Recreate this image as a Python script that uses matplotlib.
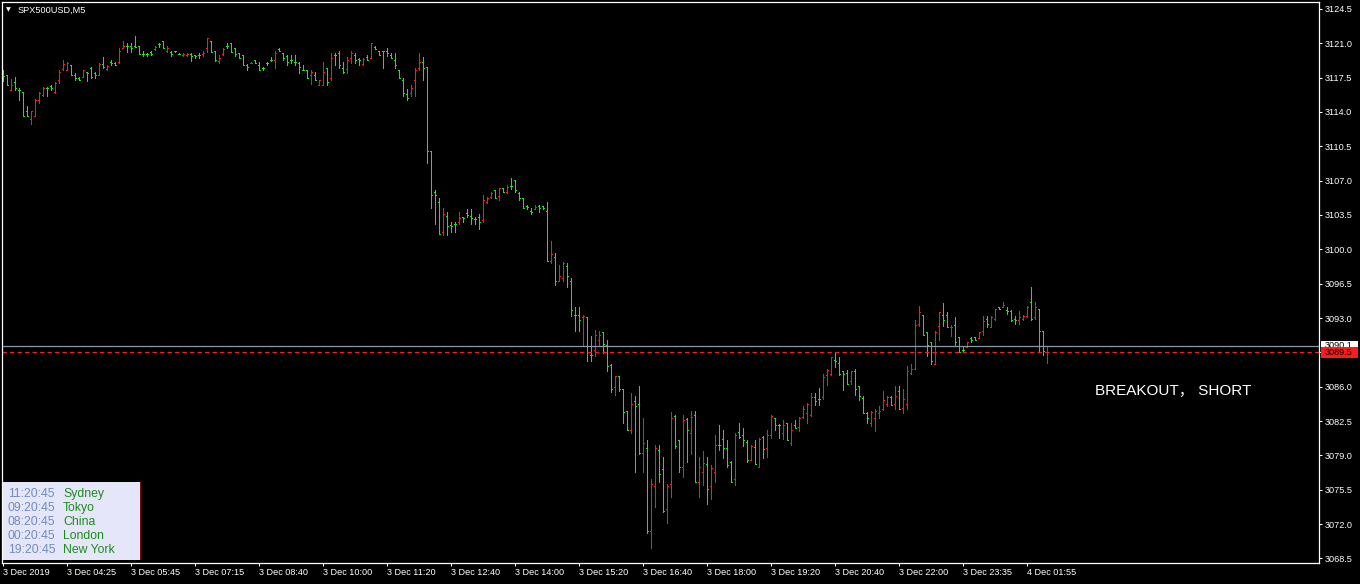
import matplotlib
matplotlib.use("Agg")
import matplotlib.pyplot as plt
from matplotlib.collections import LineCollection
from matplotlib.patches import Rectangle

plt.rcParams['font.family'] = ['Liberation Sans', 'DejaVu Sans']

# SPX500USD M5 bars (bar index 0..261)
opens = [
    3117.75, 3117.78, 3116.22, 3117.07, 3116.25, 3116.05, 3114.11, 3113.26, 3113.60, 3115.20,
    3115.71, 3116.49, 3116.66, 3116.08, 3117.24, 3118.36, 3118.26, 3118.80, 3117.78, 3117.51,
    3117.58, 3118.05, 3118.53, 3118.02, 3117.78, 3118.87, 3118.36, 3119.10, 3119.04, 3119.10,
    3120.56, 3120.73, 3120.73, 3120.73, 3120.73, 3119.95, 3119.95, 3120.16, 3120.39, 3120.97,
    3121.24, 3120.22, 3120.16, 3120.20, 3119.95, 3119.78, 3119.78, 3119.95, 3119.78, 3119.82,
    3119.88, 3120.49, 3121.24, 3120.22, 3119.21, 3119.88, 3120.73, 3121.00, 3120.49, 3119.99,
    3119.82, 3118.76, 3118.97, 3119.27, 3118.80, 3118.53, 3119.03, 3119.31, 3119.27, 3120.46,
    3119.98, 3119.71, 3119.27, 3119.10, 3119.03, 3118.29, 3118.29, 3117.75, 3117.78, 3116.73,
    3116.73, 3118.53, 3117.51, 3119.82, 3119.98, 3118.53, 3118.36, 3119.54, 3119.82, 3119.44,
    3118.86, 3119.61, 3119.54, 3120.66, 3120.22, 3120.22, 3120.22, 3119.82, 3119.27, 3118.29,
    3117.27, 3115.81, 3115.98, 3117.24, 3118.53, 3119.10, 3118.59, 3110.04, 3105.80, 3104.78,
    3101.72, 3103.42, 3102.50, 3102.57, 3102.74, 3103.25, 3103.66, 3103.42, 3103.08, 3103.25,
    3102.98, 3104.78, 3105.29, 3106.03, 3105.46, 3106.24, 3105.80, 3106.48, 3107.09, 3105.73,
    3105.22, 3104.44, 3103.93, 3104.10, 3104.44, 3104.37, 3103.87, 3098.77, 3099.25, 3096.81,
    3097.08, 3098.33, 3096.81, 3093.34, 3093.34, 3093.07, 3093.14, 3089.27, 3089.74, 3090.76,
    3091.54, 3090.29, 3088.25, 3085.94, 3087.06, 3085.77, 3083.57, 3081.60, 3084.59, 3084.25,
    3079.22, 3079.76, 3071.28, 3075.83, 3079.56, 3077.63, 3073.55, 3076.10, 3083.06, 3080.58,
    3077.86, 3082.72, 3081.26, 3083.16, 3076.27, 3077.29, 3078.14, 3075.83, 3077.29, 3080.10,
    3080.68, 3079.76, 3078.31, 3076.61, 3081.36, 3081.12, 3080.34, 3078.54, 3079.83, 3077.86,
    3080.92, 3079.76, 3081.12, 3082.82, 3082.14, 3081.26, 3082.28, 3080.24, 3082.14, 3081.86,
    3082.88, 3083.29, 3083.12, 3084.99, 3084.75, 3084.92, 3087.23, 3087.30, 3088.72, 3088.38,
    3087.64, 3087.36, 3086.62, 3087.64, 3086.11, 3084.85, 3083.29, 3082.27, 3082.81, 3083.29,
    3083.73, 3084.24, 3084.99, 3084.24, 3085.60, 3083.83, 3084.24, 3087.36, 3087.80, 3092.39,
    3093.34, 3091.54, 3090.52, 3088.31, 3092.22, 3093.34, 3093.30, 3092.05, 3092.32, 3091.03,
    3089.74, 3090.01, 3090.96, 3091.03, 3090.96, 3091.71, 3092.90, 3092.12, 3092.90, 3094.15,
    3094.15, 3093.81, 3093.75, 3092.90, 3092.80, 3092.90, 3093.24, 3094.59, 3093.13, 3093.91,
    3091.71, 3089.50,
]
highs = [
    3118.26, 3117.78, 3117.34, 3117.58, 3116.49, 3116.05, 3114.59, 3114.11, 3115.30, 3116.05,
    3116.56, 3116.56, 3116.76, 3117.07, 3118.26, 3119.27, 3119.10, 3118.80, 3118.02, 3117.58,
    3118.29, 3118.08, 3118.59, 3118.08, 3119.04, 3119.61, 3118.80, 3119.27, 3119.10, 3120.49,
    3121.24, 3121.00, 3121.00, 3121.75, 3120.73, 3120.22, 3119.99, 3120.22, 3120.73, 3121.00,
    3121.24, 3120.73, 3120.22, 3120.22, 3119.99, 3119.99, 3119.99, 3119.99, 3119.82, 3119.99,
    3120.22, 3121.58, 3121.24, 3120.22, 3119.82, 3120.49, 3121.00, 3121.00, 3120.49, 3119.99,
    3119.82, 3118.87, 3119.10, 3119.31, 3119.10, 3118.59, 3119.10, 3119.61, 3120.22, 3120.49,
    3119.98, 3119.82, 3119.82, 3119.82, 3119.10, 3118.76, 3118.29, 3118.29, 3118.08, 3117.24,
    3119.10, 3118.53, 3119.98, 3119.98, 3120.22, 3119.10, 3119.61, 3120.22, 3119.98, 3119.54,
    3119.54, 3119.82, 3121.00, 3120.73, 3120.22, 3120.22, 3120.49, 3119.98, 3119.98, 3118.29,
    3117.51, 3116.39, 3116.73, 3118.53, 3119.98, 3119.61, 3118.59, 3110.04, 3106.03, 3105.22,
    3104.20, 3103.83, 3102.74, 3102.74, 3103.83, 3103.32, 3104.10, 3104.10, 3103.25, 3103.59,
    3105.52, 3105.29, 3105.80, 3106.03, 3106.24, 3106.24, 3106.54, 3107.26, 3107.09, 3105.80,
    3105.22, 3104.51, 3104.20, 3104.54, 3104.54, 3104.44, 3104.78, 3100.81, 3099.59, 3098.43,
    3098.67, 3098.57, 3097.08, 3094.09, 3094.09, 3093.34, 3093.14, 3091.14, 3091.82, 3091.65,
    3091.61, 3090.76, 3088.32, 3087.13, 3087.13, 3085.77, 3083.57, 3085.33, 3085.09, 3086.11,
    3082.82, 3080.58, 3076.61, 3080.10, 3080.10, 3078.81, 3076.10, 3083.40, 3083.16, 3080.58,
    3083.16, 3082.82, 3083.57, 3083.57, 3078.81, 3079.49, 3078.81, 3077.97, 3081.12, 3082.14,
    3081.60, 3080.58, 3078.41, 3081.26, 3082.28, 3081.80, 3080.58, 3080.10, 3080.58, 3080.78,
    3081.02, 3081.60, 3083.16, 3082.82, 3082.21, 3082.62, 3082.28, 3082.28, 3082.61, 3082.88,
    3084.07, 3084.31, 3085.33, 3085.33, 3085.87, 3087.30, 3087.80, 3089.06, 3089.57, 3089.06,
    3087.64, 3087.70, 3087.64, 3087.80, 3086.11, 3085.09, 3083.39, 3083.56, 3083.73, 3084.07,
    3085.60, 3085.09, 3085.09, 3086.11, 3086.11, 3085.77, 3088.14, 3088.31, 3092.80, 3094.25,
    3093.34, 3091.54, 3090.52, 3091.64, 3093.58, 3094.49, 3093.58, 3092.32, 3093.13, 3091.03,
    3090.01, 3090.52, 3091.03, 3091.10, 3091.54, 3093.24, 3093.24, 3093.24, 3093.91, 3094.15,
    3094.66, 3094.15, 3093.81, 3093.24, 3093.75, 3093.30, 3094.25, 3096.19, 3094.66, 3093.91,
    3091.71, 3090.10,
]
lows = [
    3117.17, 3116.73, 3116.22, 3116.22, 3115.20, 3113.54, 3113.54, 3112.76, 3113.54, 3114.96,
    3115.64, 3115.64, 3116.22, 3115.98, 3117.00, 3118.26, 3118.26, 3117.75, 3117.24, 3117.24,
    3117.58, 3117.17, 3117.51, 3117.51, 3117.75, 3118.53, 3118.26, 3118.76, 3118.76, 3119.04,
    3120.49, 3120.16, 3120.16, 3120.66, 3119.95, 3119.71, 3119.71, 3119.82, 3120.33, 3120.66,
    3120.49, 3120.16, 3119.71, 3120.16, 3119.91, 3119.71, 3119.71, 3119.21, 3119.54, 3119.54,
    3119.71, 3120.16, 3120.16, 3119.21, 3119.04, 3119.82, 3120.49, 3120.16, 3119.71, 3119.48,
    3118.76, 3118.26, 3118.97, 3119.02, 3118.26, 3118.26, 3118.76, 3119.20, 3118.53, 3120.22,
    3119.27, 3118.76, 3119.03, 3118.76, 3118.02, 3118.25, 3117.51, 3116.90, 3117.24, 3116.73,
    3116.73, 3116.73, 3117.24, 3118.76, 3118.53, 3118.02, 3118.02, 3119.03, 3119.03, 3118.76,
    3118.76, 3119.27, 3119.54, 3120.46, 3119.82, 3118.53, 3119.71, 3119.54, 3118.53, 3117.51,
    3115.64, 3115.20, 3115.64, 3115.64, 3118.29, 3117.24, 3108.75, 3104.17, 3102.57, 3101.55,
    3101.49, 3101.49, 3101.72, 3101.72, 3102.57, 3102.74, 3103.25, 3102.57, 3102.57, 3102.06,
    3102.74, 3104.71, 3105.22, 3105.19, 3105.02, 3105.80, 3105.73, 3106.20, 3105.80, 3105.02,
    3104.17, 3104.10, 3103.59, 3104.10, 3103.76, 3104.10, 3098.77, 3098.57, 3096.40, 3096.74,
    3096.74, 3096.19, 3093.24, 3091.71, 3091.71, 3090.19, 3088.59, 3088.66, 3089.17, 3090.19,
    3089.44, 3087.57, 3085.50, 3085.20, 3085.60, 3082.28, 3081.60, 3081.26, 3077.29, 3079.09,
    3077.29, 3071.07, 3069.58, 3073.72, 3076.27, 3073.21, 3072.09, 3074.74, 3079.76, 3077.29,
    3076.78, 3078.31, 3079.15, 3076.27, 3074.74, 3075.93, 3074.06, 3074.57, 3076.27, 3079.56,
    3078.75, 3077.80, 3076.27, 3076.03, 3080.78, 3080.00, 3078.31, 3078.54, 3078.14, 3077.80,
    3078.75, 3078.88, 3080.78, 3081.60, 3080.78, 3080.68, 3080.58, 3080.10, 3081.80, 3081.53,
    3082.81, 3082.27, 3083.05, 3084.17, 3084.17, 3084.75, 3086.21, 3087.23, 3088.04, 3087.23,
    3085.67, 3086.28, 3086.28, 3085.19, 3084.65, 3083.29, 3082.27, 3082.03, 3081.53, 3082.81,
    3083.63, 3084.07, 3084.17, 3083.73, 3083.73, 3083.29, 3083.73, 3087.30, 3087.80, 3092.22,
    3091.30, 3089.16, 3088.31, 3088.31, 3090.76, 3092.22, 3092.05, 3091.20, 3090.18, 3089.50,
    3089.50, 3090.01, 3090.52, 3090.76, 3090.96, 3091.30, 3092.05, 3092.05, 3092.80, 3093.91,
    3094.08, 3093.41, 3092.66, 3092.39, 3092.39, 3092.80, 3093.13, 3092.80, 3092.90, 3089.50,
    3089.26, 3088.38,
]
closes = [
    3117.70, 3116.73, 3116.76, 3116.49, 3116.22, 3113.54, 3113.54, 3114.05, 3115.23, 3115.98,
    3116.49, 3116.42, 3116.42, 3117.00, 3118.12, 3118.87, 3119.04, 3117.75, 3117.51, 3117.24,
    3118.26, 3118.00, 3117.58, 3117.75, 3118.87, 3118.59, 3118.70, 3119.04, 3118.80, 3120.22,
    3120.73, 3120.70, 3120.56, 3120.66, 3119.95, 3119.88, 3119.93, 3119.95, 3120.66, 3120.95,
    3120.49, 3120.56, 3119.95, 3120.18, 3119.93, 3119.95, 3119.95, 3119.71, 3119.71, 3119.80,
    3120.05, 3121.51, 3120.16, 3119.27, 3119.48, 3120.39, 3120.70, 3120.16, 3119.95, 3119.48,
    3118.76, 3118.59, 3119.04, 3119.02, 3118.26, 3118.50, 3119.00, 3119.30, 3119.98, 3120.22,
    3119.54, 3119.10, 3119.25, 3119.08, 3118.59, 3118.27, 3117.51, 3118.08, 3117.24, 3117.24,
    3118.08, 3117.07, 3119.54, 3119.80, 3118.76, 3118.08, 3119.31, 3119.98, 3119.27, 3119.27,
    3119.44, 3119.27, 3121.00, 3120.46, 3119.82, 3120.20, 3119.98, 3119.54, 3118.76, 3117.51,
    3115.98, 3115.47, 3116.49, 3118.29, 3119.10, 3118.53, 3110.04, 3105.52, 3105.52, 3101.55,
    3103.59, 3102.33, 3102.33, 3102.55, 3103.15, 3103.22, 3103.49, 3103.15, 3103.06, 3102.81,
    3105.02, 3105.19, 3105.73, 3105.19, 3106.24, 3105.80, 3106.31, 3106.46, 3106.03, 3105.22,
    3104.17, 3104.27, 3103.76, 3104.27, 3104.20, 3104.20, 3098.77, 3099.52, 3096.81, 3097.31,
    3098.57, 3097.31, 3093.85, 3093.32, 3092.80, 3093.24, 3089.51, 3089.25, 3091.31, 3091.31,
    3090.36, 3088.15, 3085.77, 3087.06, 3085.77, 3083.40, 3081.60, 3084.25, 3084.08, 3079.22,
    3080.27, 3071.28, 3076.10, 3079.76, 3077.12, 3073.38, 3075.83, 3082.82, 3080.00, 3077.86,
    3082.62, 3081.60, 3082.89, 3076.27, 3077.86, 3078.20, 3075.59, 3077.69, 3080.10, 3080.08,
    3079.76, 3077.97, 3076.27, 3081.12, 3080.85, 3080.58, 3078.54, 3080.00, 3078.14, 3080.68,
    3079.66, 3081.12, 3083.06, 3082.14, 3082.12, 3082.14, 3080.58, 3081.60, 3081.80, 3082.81,
    3083.73, 3084.24, 3084.99, 3084.58, 3084.72, 3086.96, 3087.70, 3088.99, 3088.59, 3087.30,
    3087.30, 3086.28, 3087.57, 3085.77, 3085.09, 3083.29, 3082.81, 3083.39, 3083.49, 3083.49,
    3084.65, 3084.99, 3084.17, 3085.09, 3083.73, 3084.75, 3087.64, 3087.80, 3092.32, 3093.58,
    3091.30, 3090.28, 3088.65, 3091.54, 3093.58, 3092.80, 3092.05, 3092.12, 3090.52, 3089.50,
    3089.72, 3090.52, 3090.76, 3090.76, 3091.54, 3092.73, 3092.39, 3093.13, 3093.91, 3093.91,
    3094.36, 3093.75, 3092.80, 3092.80, 3093.13, 3093.24, 3094.15, 3092.90, 3094.15, 3091.71,
    3089.60, 3090.10,
]

# axis labels
time_labels = ["3 Dec 2019", "3 Dec 04:25", "3 Dec 05:45", "3 Dec 07:15", "3 Dec 08:40",
               "3 Dec 10:00", "3 Dec 11:20", "3 Dec 12:40", "3 Dec 14:00", "3 Dec 15:20",
               "3 Dec 16:40", "3 Dec 18:00", "3 Dec 19:20", "3 Dec 20:40", "3 Dec 22:00",
               "3 Dec 23:35", "4 Dec 01:55"]
time_label_bars = list(range(0, 257, 16))
price_ticks = [3124.5, 3121.0, 3117.5, 3114.0, 3110.5, 3107.0, 3103.5, 3100.0, 3096.5,
               3093.0, 3089.5, 3086.0, 3082.5, 3079.0, 3075.5, 3072.0, 3068.5]
price_tick_labels = ["3124.5", "3121.0", "3117.5", "3114.0", "3110.5", "3107.0", "3103.5",
                     "3100.0", "3096.5", "3093.0", "", "3086.0", "3082.5", "3079.0",
                     "3075.5", "3072.0", "3068.5"]
bid_price = 3090.1
ask_price = 3089.5

# session clock box
clock_times = ["11:20:45", "09:20:45", "08:20:45", "00:20:45", "19:20:45"]
clock_cities = ["Sydney", "Tokyo", "China", "London", "New York"]

UP = '#ff1a1a'
DOWN = '#1ee61e'
W, H = 1360, 584
PX = 72 / 100  # one pixel in points

fig = plt.figure(figsize=(W / 100, H / 100), dpi=100, facecolor='black')
ax = fig.add_axes([2 / W, 21 / H, 1317 / W, 561 / H], facecolor='black')

# OHLC bars: thin 1px stick plus 1px open/close ticks
for up, col in [(True, UP), (False, DOWN)]:
    sticks, ticks = [], []
    for i in range(len(opens)):
        if (closes[i] > opens[i]) != up:
            continue
        sticks.append([(i, lows[i]), (i, highs[i])])
        ticks.append([(i - 0.25, opens[i]), (i, opens[i])])
        ticks.append([(i, closes[i]), (i + 0.25, closes[i])])
    ax.add_collection(LineCollection(sticks, colors=col, linewidths=PX, antialiaseds=False))
    ax.add_collection(LineCollection(ticks, colors=col, linewidths=PX, antialiaseds=False))

# bid / ask lines
ax.axhline(bid_price, color='#8d97aa', lw=0.9)
ax.axhline(ask_price, color='#ff1a1a', lw=0.9, ls=(0, (3.5, 2.5)))

ax.set_xlim(-0.25, 329)
ax.set_ylim(3068.03, 3125.21)

for s in ax.spines.values():
    s.set_color('white')
    s.set_linewidth(0.9)

ax.yaxis.tick_right()
ax.set_yticks(price_ticks)
ax.set_yticklabels(price_tick_labels)
ax.set_xticks(time_label_bars)
ax.set_xticklabels(time_labels, ha='left')
ax.tick_params(colors='white', labelcolor='white', labelsize=6.6, length=2.4, width=0.75,
               direction='out')
ax.tick_params(axis='x', pad=1.5)
ax.tick_params(axis='y', pad=2.0)

# price tags at the right (the white bid tag sits partly under the red one)
yt = ax.get_yaxis_transform()
ax.add_patch(Rectangle((1.0015, bid_price - 0.58), 0.028, 1.16, transform=yt,
                       facecolor='white', edgecolor='none', clip_on=False))
ax.text(1.004, bid_price + 0.1, "3090.1", transform=yt, va='center', ha='left',
        fontsize=6.6, color='black', clip_on=False)
ax.add_patch(Rectangle((1.0015, ask_price - 0.55), 0.028, 1.1, transform=yt,
                       facecolor='#ff1a1a', edgecolor='none', clip_on=False, zorder=3))
ax.text(1.004, ask_price, "3089.5", transform=yt, va='center', ha='left',
        fontsize=6.6, color='black', clip_on=False, zorder=4)

# symbol caption
fig.text(6 / W, 1 - 10 / H, "\u25bc", color='white', fontsize=4.5, va='center',
         family='DejaVu Sans')
fig.text(18 / W, 1 - 10 / H, "SPX500USD,M5", color='white', fontsize=6.6, va='center')

# signal text
fig.text(1173 / W, 1 - 391 / H, "BREAKOUT\uff0c SHORT", color='white', fontsize=11,
         ha='center', va='center', family=['Liberation Sans', 'Noto Sans CJK SC'])

# clock panel
fig.patches.append(Rectangle((3 / W, 1 - 560 / H), 137 / W, 78 / H, transform=fig.transFigure,
                             facecolor='#e6e6fa', edgecolor='none', zorder=5))
fig.patches.append(Rectangle((140 / W, 1 - 560 / H), 1 / W, 78 / H, transform=fig.transFigure,
                             facecolor='#8b0000', edgecolor='none', zorder=5))
for k, (t, c) in enumerate(zip(clock_times, clock_cities)):
    y = 1 - (494 + 14 * k) / H
    fig.text(8 / W, y, t, color='#6f8cc0', fontsize=8.8, va='center', zorder=6)
    fig.text(63 / W, y, c, color='#1c8c1c', fontsize=8.8, va='center', zorder=6)

fig.savefig('out.png', dpi=100, facecolor='black')
